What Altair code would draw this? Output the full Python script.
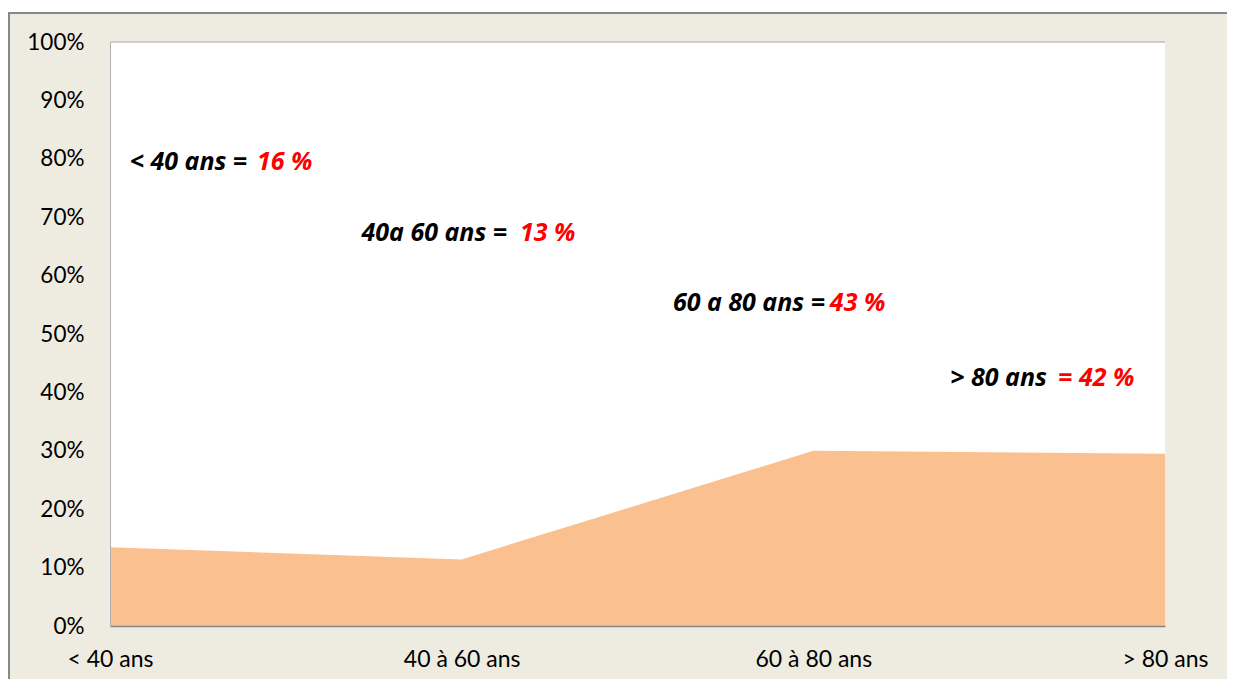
import json
import altair as alt
import pandas as pd

# ---- data ----
categories = ["< 40 ans", "40 à 60 ans", "60 à 80 ans", "> 80 ans"]
shares = [13.5, 11.4, 30.0, 29.5]          # percent
y_ticks = [0, 10, 20, 30, 40, 50, 60, 70, 80, 90, 100]

note_black = ["< 40 ans =", "40a 60 ans =", "60 a 80 ans =", "> 80 ans"]
note_red = ["16 %", "13 %", "43 %", "= 42 %"]
note_y = [79.4, 67.3, 55.3, 42.5]           # percent
note_black_x = [0.39, 1.129, 2.033, 2.664]  # in category units (right end of black part)
note_red_x = [0.418, 1.166, 2.047, 2.696]   # in category units (left end of red part)

W, H = 1055, 584
PAD = {"left": 102, "top": 34, "right": 62, "bottom": 53}
FONT = "Lato"
NOTE_FONT = "Open Sans"

df = pd.DataFrame({"idx": list(range(len(categories))), "share": shares})
notes = pd.DataFrame({"bx": note_black_x, "rx": note_red_x, "y": note_y,
                      "black": note_black, "red": note_red})

label_expr = json.dumps(categories) + "[datum.value]"

x_scale = alt.Scale(domain=[0, len(categories) - 1], nice=False, zero=False)
y_scale = alt.Scale(domain=[0, 100], nice=False)

one = alt.Data(values=[{}])

frame = alt.Chart(one).mark_rect(fill="#EEECE1").encode(
    x=alt.value(-102), x2=alt.value(W + PAD["right"]),
    y=alt.value(-29), y2=alt.value(H + PAD["bottom"]),
)
frame_left = alt.Chart(one).mark_rule(color="#888888", strokeWidth=2).encode(
    x=alt.value(-101), y=alt.value(-30), y2=alt.value(H + PAD["bottom"])
)
frame_top = alt.Chart(one).mark_rule(color="#888888", strokeWidth=2).encode(
    x=alt.value(-102), x2=alt.value(W + PAD["right"]), y=alt.value(-29)
)

plot_bg = alt.Chart(one).mark_rect(fill="white").encode(
    x=alt.value(0), x2=alt.value(W), y=alt.value(0), y2=alt.value(H)
)

top_line = alt.Chart(one).mark_rule(color="#BFBFBF", strokeWidth=1.5).encode(
    x=alt.value(0), x2=alt.value(W), y=alt.value(0)
)

area = alt.Chart(df).mark_area(color="#FAC090", opacity=1).encode(
    x=alt.X("idx:Q", scale=x_scale,
            axis=alt.Axis(values=list(range(len(categories))), labelExpr=label_expr,
                          title=None, ticks=False, grid=False, domainColor="#868686",
                          domainWidth=1.5, labelFont=FONT, labelFontSize=23,
                          labelColor="#000000", labelPadding=22, labelOverlap=False,
                          labelFlush=False, zindex=1)),
    y=alt.Y("share:Q", scale=y_scale,
            axis=alt.Axis(values=y_ticks, labelExpr="datum.value + '%'",
                          title=None, ticks=False, grid=False, domainColor="#B0B0B0",
                          domainWidth=1, labelFont=FONT, labelFontSize=22.5,
                          labelColor="#000000", labelPadding=26, zindex=1)),
)

black_txt = alt.Chart(notes).mark_text(
    align="right", baseline="middle", font=NOTE_FONT, fontSize=25,
    fontStyle="italic", fontWeight="bold", color="#000000"
).encode(
    x=alt.X("bx:Q", scale=x_scale), y=alt.Y("y:Q", scale=y_scale), text="black:N"
)

red_txt = alt.Chart(notes).mark_text(
    align="left", baseline="middle", font=NOTE_FONT, fontSize=25,
    fontStyle="italic", fontWeight="bold", color="#FF0000"
).encode(
    x=alt.X("rx:Q", scale=x_scale), y=alt.Y("y:Q", scale=y_scale), text="red:N"
)

chart = alt.layer(frame, frame_left, frame_top, plot_bg, area, top_line,
                  black_txt, red_txt).properties(
    width=W, height=H, padding=PAD, autosize=alt.AutoSizeParams(type="none"),
    background="white",
).configure_view(stroke=None, fill=None)

chart.save("out.html", embed_options={"renderer": "svg", "actions": False})
